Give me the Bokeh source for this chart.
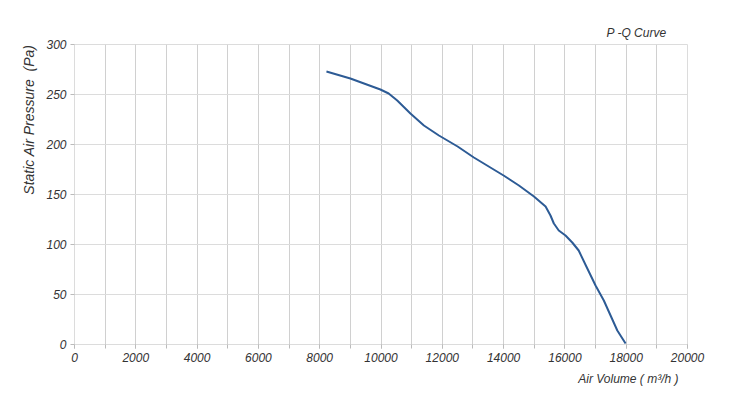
from bokeh.plotting import figure
from bokeh.models import FixedTicker, Title
from bokeh.embed import file_html
from bokeh.resources import INLINE

# Data
air_volume = [8220, 9000, 9980, 10250, 10530, 10960, 11400, 11890, 12500, 13030,
              14000, 14500, 14990, 15370, 15530, 15640, 15800, 16020, 16240, 16450,
              16700, 17000, 17270, 17490, 17710, 17980]
pressure = [273, 266, 255, 251, 244, 231, 219, 209, 198, 187,
            169, 159, 148, 138, 129, 121, 114, 109, 102, 94,
            78, 59, 44, 29, 14, 1]
x_ticks = [0, 2000, 4000, 6000, 8000, 10000, 12000, 14000, 16000, 18000, 20000]
y_ticks = [0, 50, 100, 150, 200, 250, 300]

FONT = "Liberation Sans"
TXT = "#333333"
GRID = "#dcdcdc"

p = figure(width=727, height=405, x_range=(0, 20000), y_range=(0, 300),
           output_backend="svg", toolbar_location=None,
           min_border_left=74, min_border_right=40, min_border_top=44, min_border_bottom=61)
p.background_fill_color = "white"
p.border_fill_color = "white"
p.outline_line_color = GRID

p.line(air_volume, pressure, line_color="#2d5b95", line_width=2)

p.xaxis.ticker = FixedTicker(ticks=x_ticks, minor_ticks=list(range(0, 20001, 1000)))
p.yaxis.ticker = FixedTicker(ticks=y_ticks)

for ax in (p.xaxis, p.yaxis):
    ax.axis_line_color = GRID
    ax.major_tick_line_color = "#bbbbbb"
    ax.minor_tick_line_color = "#bbbbbb"
    ax.major_tick_out = 4
    ax.major_tick_in = 0
    ax.minor_tick_out = 4
    ax.minor_tick_in = 0
    ax.major_label_text_font = FONT
    ax.major_label_text_font_style = "italic"
    ax.major_label_text_font_size = "12px"
    ax.major_label_text_color = TXT
    ax.major_label_standoff = 4

p.yaxis.minor_tick_line_color = None

p.xgrid.grid_line_color = "#d0d0d0"
p.xgrid.minor_grid_line_color = "#d0d0d0"
p.ygrid.grid_line_color = GRID

p.add_layout(Title(text="Static Air Pressure\u00a0\u00a0(Pa)", align="right", offset=0,
                   standoff=14, text_font=FONT, text_font_style="italic",
                   text_font_size="14px", text_color=TXT), "left")
p.add_layout(Title(text="P -Q Curve", align="right", offset=21,
                   text_font=FONT, text_font_style="italic", text_font_size="12px",
                   text_color=TXT), "above")
p.add_layout(Title(text="Air Volume ( m³/h )", align="right", offset=9, standoff=10,
                   text_font=FONT, text_font_style="italic", text_font_size="12px",
                   text_color=TXT), "below")

open("out.html", "w").write(file_html(p, INLINE))
